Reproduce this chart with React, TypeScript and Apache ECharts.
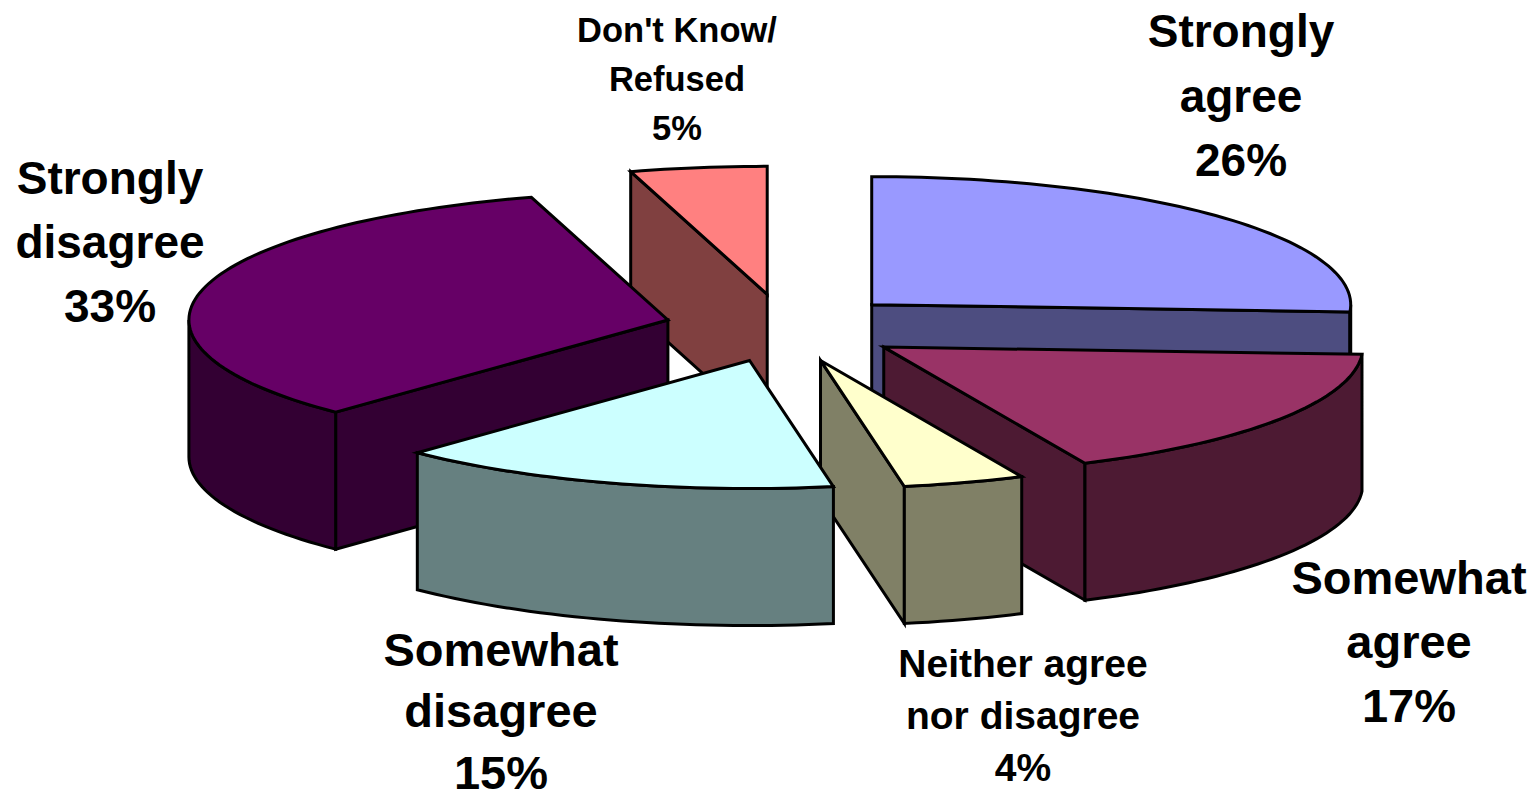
import React, { useEffect, useRef } from "react";
import * as echarts from "echarts";

// --- data, in chart (clockwise from 12 o'clock) order ---
const categories = [
  ["Strongly", "agree"],
  ["Somewhat", "agree"],
  ["Neither agree", "nor disagree"],
  ["Somewhat", "disagree"],
  ["Strongly", "disagree"],
  ["Don't Know/", "Refused"],
];
const sliceValues = [25.9, 17.2, 4.1, 15, 33.2, 4.6];
const percentLabels = ["26%", "17%", "4%", "15%", "33%", "5%"];

// --- style ---
const topColors = ["#9999FF", "#993366", "#FFFFCC", "#CCFFFF", "#660066", "#FF8080"];
const wallColors = ["#4D4D80", "#4D1A33", "#808066", "#668080", "#330033", "#804040"];
const paintOrder = [5, 0, 4, 1, 2, 3];
const labelAnchors = [
  { x: 1241, y: 31, size: 46, gap: 64.5 },
  { x: 1409, y: 577, size: 47, gap: 64 },
  { x: 1023, y: 663, size: 39, gap: 52 },
  { x: 501, y: 649, size: 47, gap: 61.5 },
  { x: 110, y: 178, size: 46, gap: 64 },
  { x: 677, y: 30, size: 34.5, gap: 49 },
];

const CX = 784.5;
const CY = 328;
const RX = 479;
const RY = 128;
const DEPTH = 137;
const EXPLODE_X = 120;
const EXPLODE_Y = 34;
const LINE = 3;
const RAD = Math.PI / 180;

const total = sliceValues.reduce((a, b) => a + b, 0);
const angles = sliceValues.reduce<number[]>((acc, v) => {
  acc.push(acc[acc.length - 1] + (v / total) * 360);
  return acc;
}, [0]);

const rim = (ax: number, ay: number, deg: number): [number, number] => [
  ax + RX * Math.sin(deg * RAD),
  ay - RY * Math.cos(deg * RAD),
];

const arcPoints = (ax: number, ay: number, from: number, to: number) => {
  const steps = Math.max(2, Math.ceil((to - from) / 1.5));
  const pts: [number, number][] = [];
  for (let i = 0; i <= steps; i++) pts.push(rim(ax, ay, from + ((to - from) * i) / steps));
  return pts;
};

const down = (pts: [number, number][]) => pts.map(([x, y]) => [x, y + DEPTH] as [number, number]);

const face = (points: [number, number][], fill: string) => ({
  type: "polygon",
  shape: { points },
  style: { fill, stroke: "#000", lineWidth: LINE, lineJoin: "miter" },
});

const renderSlice = (params: any) => {
  const i = paintOrder[params.dataIndex];
  const start = angles[i];
  const end = angles[i + 1];
  const mid = (start + end) / 2;
  const ax = CX + EXPLODE_X * Math.sin(mid * RAD);
  const ay = CY - EXPLODE_Y * Math.cos(mid * RAD);
  const apex: [number, number] = [ax, ay];
  const wall = wallColors[i];
  const children: any[] = [];

  const edgeWall = (deg: number) => {
    const p = rim(ax, ay, deg);
    children.push(face([apex, p, [p[0], p[1] + DEPTH], [ax, ay + DEPTH]], wall));
  };
  // a cut face looks toward the viewer only on one side of the pie
  if (Math.sin(start * RAD) < -1e-6) edgeWall(start);
  if (Math.sin(end * RAD) > 1e-6) edgeWall(end);

  const frontFrom = Math.max(start, 90);
  const frontTo = Math.min(end, 270);
  if (frontTo > frontFrom) {
    const arc = arcPoints(ax, ay, frontFrom, frontTo);
    children.push(face([...arc, ...down(arc).reverse()], wall));
  }

  children.push(face([apex, ...arcPoints(ax, ay, start, end)], topColors[i]));
  return { type: "group", children };
};

export default function App() {
  const ref = useRef<HTMLDivElement>(null);
  useEffect(() => {
    document.body.style.margin = "0";
    document.body.style.background = "#fff";
    const chart = echarts.init(ref.current!, null, { renderer: "svg" });
    const graphic: any[] = [];
    categories.forEach((lines, i) => {
      const a = labelAnchors[i];
      [...lines, percentLabels[i]].forEach((text, k) => {
        graphic.push({
          type: "text",
          x: a.x,
          y: a.y + k * a.gap,
          z: 10,
          style: {
            text,
            fill: "#000",
            font: `bold ${a.size}px "Liberation Sans", Arial, sans-serif`,
            textAlign: "center",
            textVerticalAlign: "middle",
          },
        });
      });
    });
    chart.setOption({
      animation: false,
      backgroundColor: "#fff",
      graphic,
      series: [
        {
          type: "custom",
          coordinateSystem: "none",
          silent: true,
          renderItem: renderSlice,
          data: paintOrder.map((i) => sliceValues[i]),
        },
      ],
    });
    return () => chart.dispose();
  }, []);
  return <div ref={ref} style={{ width: 1535, height: 799, display: "block", overflow: "hidden" }} />;
}
